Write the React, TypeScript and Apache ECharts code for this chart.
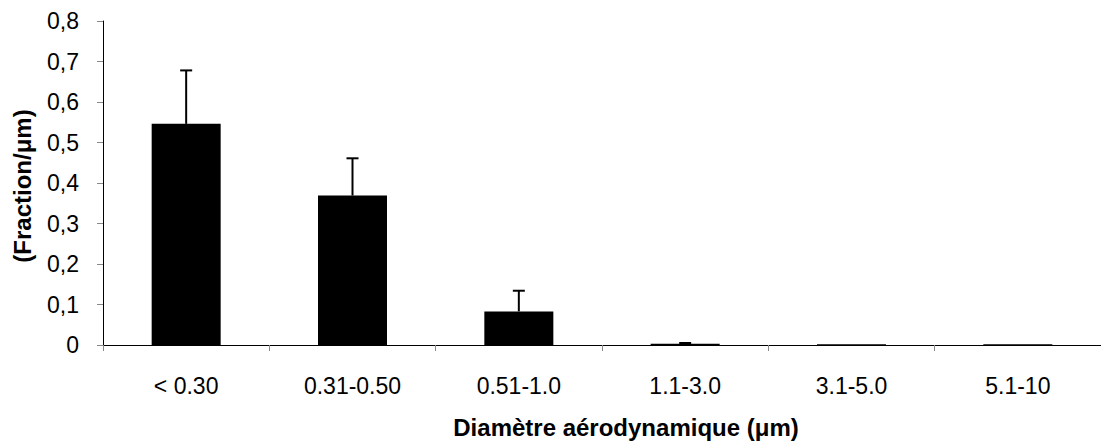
import React, { useEffect, useRef } from "react";
import * as echarts from "echarts";

const categories = ["< 0.30", "0.31-0.50", "0.51-1.0", "1.1-3.0", "3.1-5.0", "5.1-10"];
const values = [0.546, 0.369, 0.083, 0.003, 0.002, 0.002];
const errors = [0.132, 0.092, 0.051, 0.002, 0.001, 0.0];
const yTicks = [0, 0.1, 0.2, 0.3, 0.4, 0.5, 0.6, 0.7, 0.8];

export default function App() {
  const ref = useRef<HTMLDivElement>(null);
  useEffect(() => {
    if (!ref.current) return;
    const chart = echarts.init(ref.current, null, { renderer: "svg" });
    const font = "'Liberation Sans', Arial, sans-serif";
    chart.setOption({
      animation: false,
      backgroundColor: "#ffffff",
      grid: { left: 103, right: -6, top: 21, bottom: 94, containLabel: false },
      xAxis: {
        type: "category",
        data: categories,
        boundaryGap: true,
        axisLine: { lineStyle: { color: "#000", width: 1 } },
        axisTick: { show: true, length: 6, lineStyle: { color: "#888" }, alignWithLabel: false },
        axisLabel: { color: "#000", fontSize: 23, fontFamily: font, margin: 29 },
        name: "Diamètre aérodynamique (μm)",
        nameLocation: "middle",
        nameGap: 70,
        nameTextStyle: {
          color: "#000",
          fontSize: 24,
          fontWeight: "bold",
          fontFamily: font,
          padding: [0, 0, 0, 48],
        },
      },
      yAxis: {
        type: "value",
        min: 0,
        max: yTicks[yTicks.length - 1],
        interval: 0.1,
        splitLine: { show: false },
        axisLine: { show: true, lineStyle: { color: "#000", width: 1 } },
        axisTick: { show: true, length: 6, lineStyle: { color: "#888" } },
        axisLabel: {
          color: "#000",
          fontSize: 23,
          fontFamily: font,
          margin: 24,
          formatter: (v: number) => (v === 0 ? "0" : v.toFixed(1).replace(".", ",")),
        },
        name: "(Fraction/μm)",
        nameLocation: "middle",
        nameGap: 69,
        nameTextStyle: {
          color: "#000",
          fontSize: 24,
          fontWeight: "bold",
          fontFamily: font,
          padding: [0, 6, 0, 0],
        },
      },
      series: [
        {
          type: "bar",
          data: values,
          barWidth: 69,
          itemStyle: { color: "#000" },
        },
        {
          type: "custom",
          data: values.map((v, i) => [i, v, v + errors[i]]),
          renderItem: (params: any, api: any) => {
            const idx = api.value(0);
            const base = api.coord([idx, api.value(1)]);
            const top = api.coord([idx, api.value(2)]);
            if (Math.abs(base[1] - top[1]) < 0.5) return null;
            return {
              type: "group",
              children: [
                {
                  type: "line",
                  shape: { x1: base[0], y1: base[1], x2: top[0], y2: top[1] },
                  style: { stroke: "#000", lineWidth: 2 },
                },
                {
                  type: "line",
                  shape: { x1: top[0] - 6, y1: top[1], x2: top[0] + 6, y2: top[1] },
                  style: { stroke: "#000", lineWidth: 2 },
                },
              ],
            };
          },
          z: 3,
        },
      ],
    });
    return () => chart.dispose();
  }, []);
  return (
    <div
      ref={ref}
      style={{ position: "absolute", left: 0, top: 0, width: 1101, height: 444 }}
    />
  );
}
